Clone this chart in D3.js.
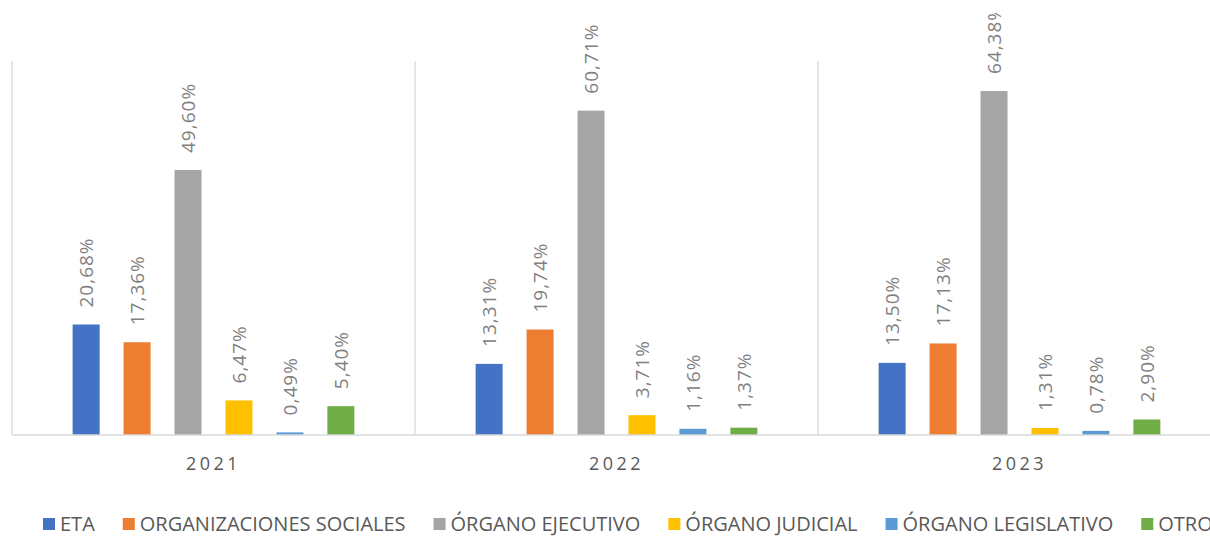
<!DOCTYPE html>
<html>
<head>
<meta charset="utf-8">
<script src="https://cdn.jsdelivr.net/npm/d3@7"></script>
<style>
  html, body { margin: 0; padding: 0; background: #fff; }
  svg { display: block; font-family: "Open Sans", "Liberation Sans", sans-serif; }
</style>
</head>
<body>
<svg id="chart"></svg>
<script>
// data
const years = ["2021", "2022", "2023"];
const series = ["ETA", "ORGANIZACIONES SOCIALES", "ÓRGANO EJECUTIVO", "ÓRGANO JUDICIAL", "ÓRGANO LEGISLATIVO", "OTROS"];
const colors = ["#4472c4", "#ed7d31", "#a5a5a5", "#ffc000", "#5b9bd5", "#70ad47"];
const values2021 = [20.68, 17.36, 49.60, 6.47, 0.49, 5.40];
const values2022 = [13.31, 19.74, 60.71, 3.71, 1.16, 1.37];
const values2023 = [13.50, 17.13, 64.38, 1.31, 0.78, 2.90];

const valuesByYear = { "2021": values2021, "2022": values2022, "2023": values2023 };

const width = 1210, height = 538;
const marginLeft = 12, plotRight = 1221, yTop = 61, yBase = 435;

const svg = d3.select("#chart")
    .attr("width", width)
    .attr("height", height)
    .attr("viewBox", [0, 0, width, height]);

const x0 = d3.scaleBand(years, [marginLeft, plotRight]).padding(0);
const x1 = d3.scaleBand(series, [0, x0.bandwidth()])
    .paddingInner(0.47)
    .paddingOuter(1.19);
const y = d3.scaleLinear([0, 70], [yBase, yTop]);
const color = d3.scaleOrdinal(series, colors);

const fmt = v => d3.format(".2f")(v).replace(".", ",") + "%";

// vertical separators between categories
const bounds = years.map(d => x0(d)).concat([x0(years[years.length - 1]) + x0.bandwidth()]);
svg.append("g")
    .attr("stroke", "#d9d9d9")
    .attr("stroke-width", 1.3)
  .selectAll("line")
  .data(bounds)
  .join("line")
    .attr("x1", d => d)
    .attr("x2", d => d)
    .attr("y1", y.range()[1])
    .attr("y2", yBase);

// bars
const groups = svg.append("g")
  .selectAll("g")
  .data(years)
  .join("g")
    .attr("transform", d => `translate(${x0(d)},0)`);

groups.selectAll("rect")
  .data(d => series.map((s, i) => ({ s, v: valuesByYear[d][i] })))
  .join("rect")
    .attr("x", d => x1(d.s))
    .attr("y", d => y(d.v))
    .attr("width", x1.bandwidth())
    .attr("height", d => yBase - y(d.v))
    .attr("fill", d => color(d.s));

// value labels (clipped at top like the original)
svg.append("clipPath").attr("id", "topclip")
  .append("rect").attr("x", 0).attr("y", 13).attr("width", width).attr("height", height);

groups.append("g")
    .attr("clip-path", "url(#topclip)")
  .selectAll("text")
  .data(d => series.map((s, i) => ({ s, v: valuesByYear[d][i] })))
  .join("text")
    .attr("transform", d => `translate(${x1(d.s) + x1.bandwidth() / 2 + 7},${y(d.v) - 17}) rotate(-90)`)
    .attr("text-anchor", "start")
    .attr("fill", "#808080")
    .style("font-size", "19px")
    .style("letter-spacing", "1px")
    .text(d => fmt(d.v));

// baseline
svg.append("line")
    .attr("x1", marginLeft)
    .attr("x2", plotRight)
    .attr("y1", yBase)
    .attr("y2", yBase)
    .attr("stroke", "#d9d9d9")
    .attr("stroke-width", 1.3);

// category axis
svg.append("g")
    .attr("transform", `translate(0,${yBase})`)
    .call(d3.axisBottom(x0).tickSize(0).tickPadding(22))
    .call(g => g.select(".domain").remove())
    .call(g => g.selectAll("text")
        .attr("fill", "#595959")
        .style("font-size", "18px")
        .style("letter-spacing", "3.5px")
        .style("font-family", "\"Open Sans\", sans-serif"));

// legend
const legend = svg.append("g").attr("transform", "translate(43,531)");
let lx = 0;
series.forEach((s, i) => {
  const item = legend.append("g").attr("transform", `translate(${lx},0)`);
  item.append("rect")
      .attr("x", 0).attr("y", -13)
      .attr("width", 12).attr("height", 12)
      .attr("fill", color(s));
  const t = item.append("text")
      .attr("x", 17)
      .attr("fill", "#595959")
      .style("font-size", "20px")
      .text(s);
  lx += 17 + t.node().getComputedTextLength() + 28;
});
</script>
</body>
</html>
